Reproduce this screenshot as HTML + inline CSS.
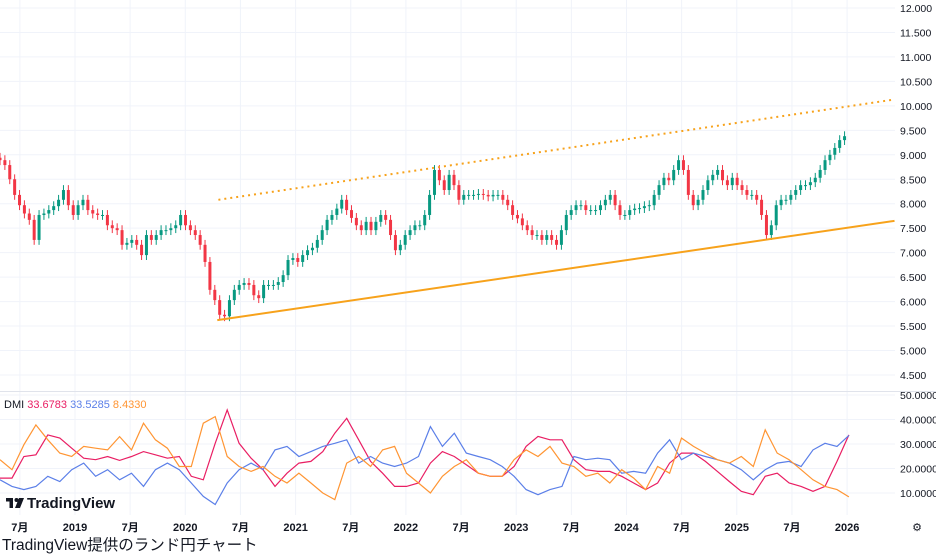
<!DOCTYPE html>
<html><head><meta charset="utf-8"><style>
html,body{margin:0;padding:0;background:#fff;}
body{width:936px;height:552px;overflow:hidden;position:relative;font-family:"Liberation Sans","Noto Sans CJK JP",sans-serif;}
svg{position:absolute;left:0;top:0;}
.caption{position:absolute;left:2px;top:533px;font-size:15.5px;color:#131722;white-space:nowrap;}
</style></head><body>
<svg id="chart" width="936" height="552" xmlns="http://www.w3.org/2000/svg"></svg>
<div class="caption">TradingView提供のランド円チャート</div>
<script>
// ---- data ----
const priceStart = 2018.32;      // year of first close
const priceStep = 0.04426;       // years between closes
const closes = [8.89,8.79,8.5,8.18,7.97,7.8,7.67,7.26,7.77,7.8,7.87,7.95,8.08,8.28,7.97,7.77,7.97,8.08,7.87,7.8,7.77,7.77,7.56,7.5,7.46,7.16,7.2,7.26,7.16,6.95,7.36,7.26,7.36,7.46,7.46,7.5,7.56,7.77,7.56,7.46,7.36,7.16,6.81,6.24,6.03,5.73,5.7,6.03,6.24,6.34,6.38,6.34,6.13,6.07,6.34,6.34,6.34,6.4,6.54,6.85,6.89,6.81,6.95,7.05,7.1,7.26,7.46,7.67,7.77,7.9,8.08,7.87,7.71,7.56,7.46,7.63,7.46,7.63,7.77,7.67,7.36,7.05,7.16,7.36,7.46,7.56,7.56,7.77,8.18,8.69,8.48,8.28,8.59,8.38,8.08,8.18,8.18,8.18,8.2,8.18,8.15,8.18,8.18,8.08,7.97,7.77,7.7,7.56,7.46,7.36,7.36,7.26,7.36,7.26,7.16,7.46,7.77,7.87,7.97,7.97,7.87,7.87,7.87,7.97,8.08,8.18,7.97,7.77,7.77,7.87,7.9,7.91,7.95,7.97,8.18,8.38,8.53,8.48,8.69,8.89,8.69,8.18,7.97,8.08,8.28,8.48,8.59,8.69,8.48,8.38,8.53,8.38,8.28,8.18,8.18,8.08,7.77,7.36,7.56,7.97,8.08,8.08,8.18,8.28,8.38,8.38,8.44,8.53,8.69,8.89,9.0,9.14,9.3,9.38];
const dmiStart = 2018.32;
const dmiStep = 0.1084;
const diPlus = [16.1,16.1,24.9,25.6,33.7,32.4,28.3,24.2,23.6,24.9,23.3,24.9,26.9,25.6,24.2,24.9,16.8,15.4,30.3,43.9,30.3,24.2,19.5,12.7,18.1,22.2,22.9,26.9,34.4,40.5,31.7,22.9,18.1,12.7,12.7,14.1,22.2,26.9,24.9,21.5,18.1,16.8,16.8,20.8,29.0,33.1,31.7,31.7,23.6,19.5,18.8,18.8,16.8,14.1,11.4,14.1,22.2,26.3,26.3,22.9,18.8,14.7,10.7,9.3,16.8,18.1,14.1,12.7,10.7,12.7,22.9,33.7];
const diMinus = [15.4,12.7,11.4,12.7,16.8,14.7,19.5,22.2,16.8,19.5,15.4,18.1,12.7,19.5,22.2,19.5,14.1,8.6,5.3,14.1,19.5,22.2,19.5,27.6,29.0,24.9,26.9,29.0,30.3,31.7,22.2,24.9,22.2,20.8,22.2,24.9,37.1,29.0,34.4,26.3,24.9,23.6,20.8,16.8,11.4,9.3,11.4,12.7,24.9,23.6,24.2,23.6,18.1,18.8,18.1,26.3,31.7,23.6,26.3,24.9,23.6,22.2,19.5,15.4,19.5,22.2,22.9,20.8,27.6,30.3,29.0,33.5];
const adx = [23.6,19.5,29.7,37.8,31.7,26.3,24.9,29.0,28.3,27.6,33.0,27.6,38.5,31.7,28.3,20.8,20.8,38.5,41.2,24.9,20.8,18.8,20.8,16.8,14.1,18.1,14.1,10.0,7.3,22.2,24.9,20.8,27.6,29.0,18.1,14.1,10.0,16.8,20.8,23.6,18.1,16.8,16.8,23.6,27.6,24.9,29.0,22.2,20.8,16.8,18.1,14.1,19.5,16.1,11.4,20.8,18.1,32.4,29.0,26.3,23.6,22.2,24.9,20.8,35.8,26.3,23.6,19.5,15.4,12.7,11.4,8.4];
const priceTicks = [12,11.5,11,10.5,10,9.5,9,8.5,8,7.5,7,6.5,6,5.5,5,4.5];
const dmiTicks = [50,40,30,20,10];
const timeTicks = [2018.5,2019,2019.5,2020,2020.5,2021,2021.5,2022,2022.5,2023,2023.5,2024,2024.5,2025,2025.5,2026];
const timeLabels = ["7月","2019","7月","2020","7月","2021","7月","2022","7月","2023","7月","2024","7月","2025","7月","2026"];
const trendLow = [[2020.29,5.62],[2026.43,7.65]];
const trendHigh = [[2020.30,8.08],[2026.43,10.13]];

// ---- scales ----
const X = t => 75 + (t - 2019) * 110.3;
const Y = p => 8 + (12 - p) * 48.93;
const YD = v => 395 + (50 - v) * 2.45;
const NS = "http://www.w3.org/2000/svg";
const svg = document.getElementById('chart');
function mk(tag, attrs, parent) {
  const e = document.createElementNS(NS, tag);
  for (const k in attrs) e.setAttribute(k, attrs[k]);
  (parent || svg).appendChild(e);
  return e;
}
priceTicks.forEach(p => {
  const l = mk('line', {x1:0, x2:895, y1:Y(p), y2:Y(p), stroke:'#f0f3fa'});
  
  
  const t = mk('text', {x:900, y:Y(p)+4, 'font-size':10.5, fill:'#131722'});
  t.textContent = p.toFixed(3);
  
  
});
dmiTicks.forEach(v => {
  const l = mk('line', {x1:0, x2:895, y1:YD(v), y2:YD(v), stroke:'#f0f3fa'});
  
  
  const t = mk('text', {x:900, y:YD(v)+4, 'font-size':10.5, fill:'#131722'});
  t.textContent = v.toFixed(4);
  
  
});
timeTicks.forEach((t, i) => {
  const l = mk('line', {x1:X(t), x2:X(t), y1:0, y2:515, stroke:'#f0f3fa'});
  
  
  const tx = mk('text', {x:X(t), y:531, 'font-size':11, 'font-weight':'bold', fill:'#131722', 'text-anchor':'middle'});
  tx.textContent = timeLabels[i];
  
  
});
const sep = mk('line', {x1:0, x2:936, y1:391.5, y2:391.5, stroke:'#e0e3eb'});


const cg = mk('g', {});


closes.forEach((c, i) => {
  const o = i ? closes[i-1] : c + 0.05;
  const hi = Math.max(o, c) + 0.1, lo = Math.min(o, c) - 0.1;
  const x = X(priceStart + i * priceStep);
  const col = c >= o ? '#089981' : '#f23645';
  const w = mk('line', {x1:x, x2:x, y1:Y(hi), y2:Y(lo), stroke:col, 'stroke-width':1}, cg);
  
  
  const top = Y(Math.max(o, c)), h = Math.max(1, Y(Math.min(o, c)) - top);
  const b = mk('rect', {x:x-1.5, y:top, width:3, height:h, fill:col}, cg);
  
  
});
const tl = mk('line', {x1:X(trendLow[0][0]), y1:Y(trendLow[0][1]), x2:X(trendLow[1][0]), y2:Y(trendLow[1][1]), stroke:'#f7a21b', 'stroke-width':2});


const th = mk('line', {x1:X(trendHigh[0][0]), y1:Y(trendHigh[0][1]), x2:X(trendHigh[1][0]), y2:Y(trendHigh[1][1]), stroke:'#f7a21b', 'stroke-width':2, 'stroke-dasharray':'2 4'});


function series(arr, col, name) {
  const pts = arr.map((v, i) => X(dmiStart + i * dmiStep).toFixed(1) + ',' + YD(v).toFixed(1)).join(' ');
  const p = mk('polyline', {points:pts, fill:'none', stroke:col, 'stroke-width':1.2});
  
  
}
series(diPlus, '#e91e63', 'di-plus-line');
series(diMinus, '#5b7fe8', 'di-minus-line');
series(adx, '#ff9533', 'adx-line');
const lg = mk('text', {x:4, y:408, 'font-size':11});


[['DMI ', '#131722'], ['33.6783 ', '#e91e63'], ['33.5285 ', '#5b7fe8'], ['8.4330', '#ff9533']].forEach(([s, c]) => {
  const ts = mk('tspan', {fill:c}, lg); ts.textContent = s;
});
const logo = mk('g', {});


mk('rect', {x:6, y:498, width:7, height:3.5, fill:'#131722'}, logo);
mk('rect', {x:9.5, y:498, width:3.5, height:10, fill:'#131722'}, logo);
mk('circle', {cx:16.5, cy:500, r:2, fill:'#131722'}, logo);
mk('polygon', {points:'19,498 24,498 20,508 15,508', fill:'#131722'}, logo);
const lt = mk('text', {x:27, y:508, 'font-size':15, 'font-weight':'bold', fill:'#131722'}, logo);
lt.textContent = 'TradingView';
const gear = mk('text', {x:917, y:531, 'font-size':11, fill:'#131722', 'text-anchor':'middle'});
gear.textContent = '⚙';


</script>
</body></html>
